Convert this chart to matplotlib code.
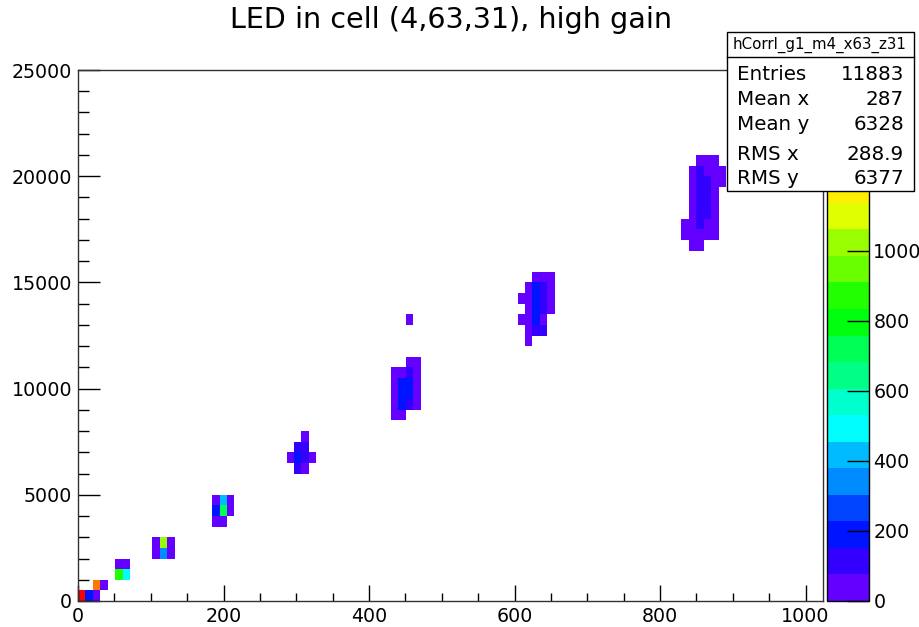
import colorsys
import numpy as np
import matplotlib
matplotlib.use("Agg")
import matplotlib.pyplot as plt
from matplotlib.colors import ListedColormap, BoundaryNorm
from matplotlib.patches import Rectangle
from matplotlib.lines import Line2D

# ---------------- data (bin contents) ----------------
title = "LED in cell (4,63,31), high gain"
hist_name = "hCorrl_g1_m4_x63_z31"
stat_labels = ["Entries", "Mean x", "Mean y", "RMS x", "RMS y"]
stat_values = ["11883", "287", "6328", "288.9", "6377"]

x_range = (0, 1024)
y_range = (0, 25000)
n_xbins = 100
n_ybins = 50
z_ticks = [0, 200, 400, 600, 800, 1000]

# x (ADC, low gain), y (ADC, high gain), bin content
cell_x = [5, 15, 26, 26, 36,
          56, 67, 56, 67,
          108, 108, 118, 118, 128, 128,
          189, 189, 189, 200, 200, 200, 210, 210,
          312, 302, 312, 292, 302, 312, 323, 302, 312,
          456, 456, 466,
          435, 445, 456, 466,
          435, 445, 456, 466,
          435, 445, 456, 466,
          435, 445, 456, 466,
          435, 445,
          630, 640, 650,
          620, 630, 640, 650,
          609, 620, 630, 640, 650,
          620, 630, 640, 650,
          609, 620, 630, 640,
          620, 630, 640,
          620,
          855, 865, 876,
          845, 855, 865, 876, 886,
          845, 855, 865, 876, 886,
          845, 855, 865, 876,
          845, 855, 865, 876,
          845, 855, 865, 876,
          835, 845, 855, 865, 876,
          835, 845, 855, 865, 876,
          845, 855]
cell_y = [250, 250, 250, 750, 750,
          1750, 1750, 1250, 1250,
          2750, 2250, 2750, 2250, 2750, 2250,
          4750, 4250, 3750, 4750, 4250, 3750, 4750, 4250,
          7750, 7250, 7250, 6750, 6750, 6750, 6750, 6250, 6250,
          13250, 11250, 11250,
          10750, 10750, 10750, 10750,
          10250, 10250, 10250, 10250,
          9750, 9750, 9750, 9750,
          9250, 9250, 9250, 9250,
          8750, 8750,
          15250, 15250, 15250,
          14750, 14750, 14750, 14750,
          14250, 14250, 14250, 14250, 14250,
          13750, 13750, 13750, 13750,
          13250, 13250, 13250, 13250,
          12750, 12750, 12750,
          12250,
          20750, 20750, 20750,
          20250, 20250, 20250, 20250, 20250,
          19750, 19750, 19750, 19750, 19750,
          19250, 19250, 19250, 19250,
          18750, 18750, 18750, 18750,
          18250, 18250, 18250, 18250,
          17750, 17750, 17750, 17750, 17750,
          17250, 17250, 17250, 17250, 17250,
          16750, 16750]
cell_n = [1515, 190, 40, 1330, 35,
          45, 60, 870, 490,
          50, 55, 1020, 330, 45, 50,
          40, 180, 40, 420, 720, 45, 35, 40,
          30, 100, 90, 40, 180, 110, 35, 100, 50,
          20, 40, 45,
          35, 50, 110, 60,
          55, 190, 200, 60,
          60, 200, 170, 55,
          50, 180, 120, 45,
          30, 25,
          40, 45, 35,
          40, 170, 90, 40,
          25, 50, 210, 120, 45,
          45, 220, 110, 40,
          30, 50, 190, 60,
          40, 100, 90,
          25,
          40, 45, 35,
          50, 110, 60, 50, 30,
          55, 130, 100, 45, 25,
          60, 140, 120, 40,
          60, 140, 110, 40,
          55, 120, 95, 35,
          30, 60, 100, 50, 30,
          35, 50, 50, 40, 25,
          30, 25]

# ---------------- styling ----------------
W, H = 920, 627
plt.rcParams["font.family"] = ["DejaVu Sans"]
fig = plt.figure(figsize=(W / 100, H / 100), dpi=100)
fig.patch.set_facecolor("white")


def fx(px):
    return px / W


def fy(py):
    return 1 - py / H


PT = 72 / 100  # points per pixel

ax = fig.add_axes([fx(78), fy(601), fx(823) - fx(78), fy(70) - fy(601)])

x_edges = np.linspace(x_range[0], x_range[1], n_xbins + 1)
y_edges = np.linspace(y_range[0], y_range[1], n_ybins + 1)
counts, _, _ = np.histogram2d(cell_x, cell_y, bins=[x_edges, y_edges], weights=cell_n)
masked = np.ma.masked_where(counts <= 0, counts)

# ROOT "pretty" palette (violet -> red), 50 colours, 20 contour levels
pretty = [colorsys.hls_to_rgb((280 - (i + 1) * 5.6) / 360.0, 0.5, 1.0) for i in range(50)]
ndivz = 20
level_colors = [pretty[int((k + 0.99) * 50 / ndivz)] for k in range(ndivz)]
cmap = ListedColormap(level_colors)
cmap.set_over(level_colors[-1])
cmap.set_bad((1, 1, 1, 0))
zmax = counts.max()
levels = np.linspace(0, zmax, ndivz + 1)
norm = BoundaryNorm(levels, ndivz)

mesh = ax.pcolormesh(x_edges, y_edges, masked.T, cmap=cmap, norm=norm,
                     edgecolors="none", antialiased=False)

ax.set_xlim(*x_range)
ax.set_ylim(*y_range)
ax.set_xticks(np.arange(0, 1001, 200))
ax.set_xticks(np.arange(0, 1001, 50), minor=True)
ax.set_yticks(np.arange(0, 25001, 5000))
ax.set_yticks(np.arange(0, 25001, 1000), minor=True)
ax.tick_params(axis="x", which="major", direction="in", length=16 * PT, width=1,
               labelsize=13.7, pad=4.3, colors="black")
ax.tick_params(axis="x", which="minor", direction="in", length=8 * PT, width=1)
ax.tick_params(axis="y", which="major", direction="in", length=22 * PT, width=1,
               labelsize=13.7, pad=4.3)
ax.tick_params(axis="y", which="minor", direction="in", length=11 * PT, width=1)
for s in ax.spines.values():
    s.set_color("#333333")
    s.set_linewidth(1)

# colour bar (upper labels are hidden behind the statistics box in the reference)
cax = fig.add_axes([fx(826.7), fy(601), fx(869.3) - fx(826.7), fy(70) - fy(601)])
cb = fig.colorbar(mesh, cax=cax, ticks=z_ticks)
cb.outline.set_linewidth(1)
cb.outline.set_edgecolor("black")
cax.tick_params(direction="in", length=22 * PT, width=1, labelsize=13.7, pad=2.9,
                color="black")
cax.minorticks_off()

# title
fig.text(fx(451), fy(28), title, ha="center", va="baseline", fontsize=20.6)

# stats box
bx0, bx1, by0, by1 = 727, 914, 32, 191
fig.add_artist(Rectangle((fx(bx0), fy(by1)), fx(bx1) - fx(bx0), fy(by0) - fy(by1),
                         transform=fig.transFigure, facecolor="white",
                         edgecolor="black", linewidth=1, zorder=10))
fig.add_artist(Line2D([fx(bx0), fx(bx1)], [fy(57), fy(57)], transform=fig.transFigure,
                      color="black", linewidth=1, zorder=11))
fig.text(fx(820), fy(49), hist_name, ha="center", va="baseline", fontsize=10.8, zorder=12)
row_base = [80, 105, 130, 160, 184]
for lab, val, yb in zip(stat_labels, stat_values, row_base):
    fig.text(fx(737), fy(yb), lab, ha="left", va="baseline", fontsize=14.3, zorder=12)
    fig.text(fx(904), fy(yb), val, ha="right", va="baseline", fontsize=14.3, zorder=12)

fig.savefig("out.png", dpi=100)
